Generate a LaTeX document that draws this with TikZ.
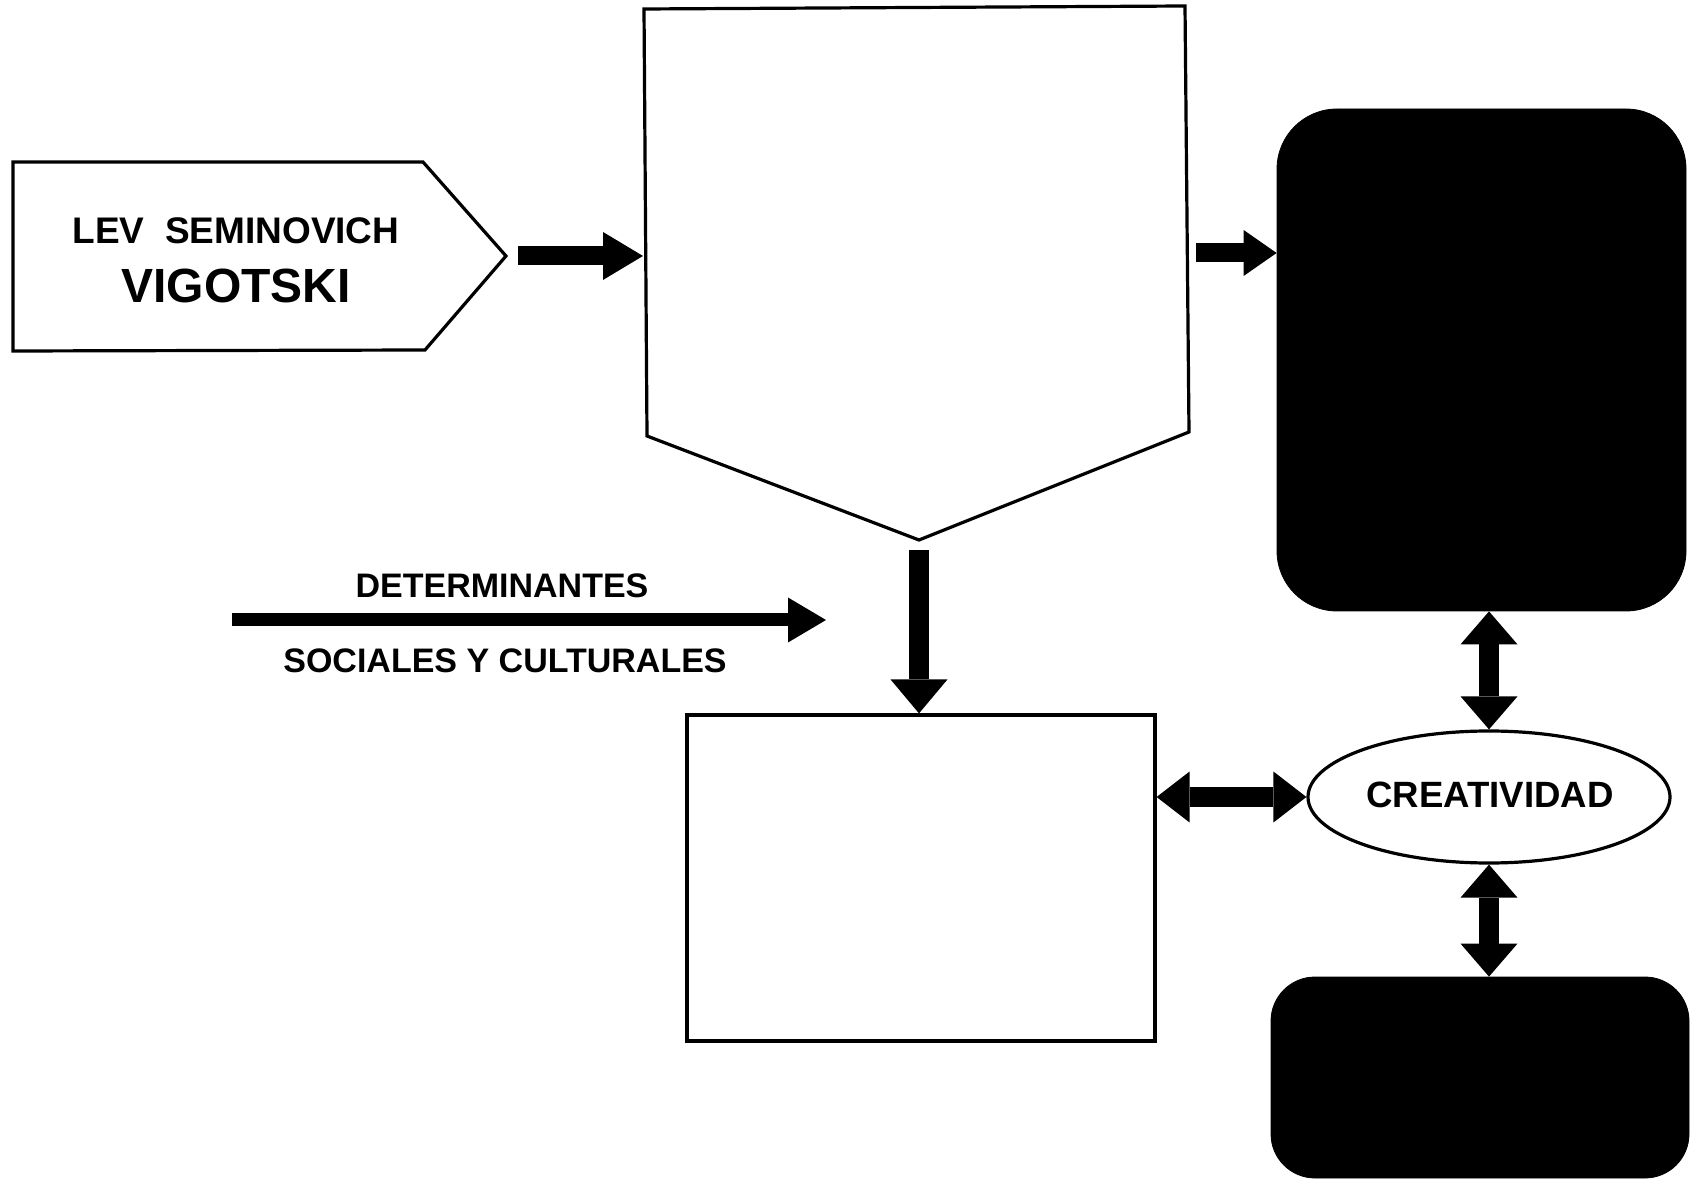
\documentclass[tikz,border=0pt]{standalone}
\usepackage{fontspec}
\setmainfont{Liberation Sans}
\usetikzlibrary{arrows.meta,shapes.geometric}
\begin{document}
\begin{tikzpicture}[x=0.5pt,y=-0.5pt,
  outline/.style={draw=black,line width=1.6pt,fill=white,line join=miter},
  blackbox/.style={fill=black,draw=black,inner sep=0pt,rounded corners=#1},
  label/.style={anchor=base,inner sep=0pt,font=\fontsize{#1}{#1}\selectfont\bfseries},
  tipA/.style 2 args={-{Triangle[width=#1,length=#2,line width=0pt]}},
  tipB/.style 2 args={{Triangle[width=#1,length=#2,line width=0pt]}-{Triangle[width=#1,length=#2,line width=0pt]}}
]
\useasboundingbox (0,0) rectangle (1692,1181);

% left pentagon
\draw[outline] (13,162) -- (423,162) -- (506,256) -- (425,350) -- (13,351) -- cycle;
\coordinate (vtip) at (506,256);
\node[label=18.5pt] (lev) at (236,244) {LEV\ \ SEMINOVICH};
\node[label=24pt] (vig) at (236,303) {VIGOTSKI};

% big pentagon
\draw[outline] (644,9) -- (1185,6) -- (1189,432) -- (919,540) -- (647,436) -- cycle;
\coordinate (pleft) at (643,256);
\coordinate (pright) at (1187,253);
\coordinate (ptip) at (919,540);

% boxes
\node[blackbox=30pt, minimum width=204.5pt, minimum height=251pt] (topbox) at (1481.5,360) {};
\node[blackbox=22pt, minimum width=209pt, minimum height=100.5pt] (botbox) at (1480,1077.5) {};
\node[draw=black,line width=1.6pt,fill=white,minimum width=234pt,minimum height=163pt,inner sep=0pt] (rect) at (921,878) {};
\node[ellipse,draw=black,line width=1.6pt,fill=white,minimum width=181pt,minimum height=66pt,inner sep=0pt] (crea) at (1489,797) {};
\node[label=18.3pt] (creat) at (1490,807) {CREATIVIDAD};

% determinantes arrow
\coordinate (ds) at (232,620);
\coordinate (de) at (826,620);
\draw[line width=6.5pt, tipA={22.5pt}{19pt}] (ds) -- (de);
\node[label=17pt] (det) at (502,598) {DETERMINANTES};
\node[label=17pt] (soc) at (505,672) {SOCIALES Y CULTURALES};

% connectors
\draw[line width=9.5pt, tipA={24pt}{20pt}, shorten <=6pt] (vtip) -- (pleft);
\draw[line width=9.5pt, tipA={23pt}{16.5pt}, shorten <=4.5pt] (pright) -- (topbox.west |- pright);
\draw[line width=10pt, tipA={28.5pt}{17pt}, shorten <=5pt] (ptip) -- (ptip |- rect.north);
\draw[line width=10pt, tipB={25.5pt}{16.5pt}] (crea.west -| rect.east) -- (crea.west);
\draw[line width=10pt, tipB={28.5pt}{16.5pt}] (crea.north |- topbox.south) -- (crea.north);
\draw[line width=10pt, tipB={28.5pt}{16.5pt}] (crea.south) -- (crea.south |- botbox.north);
\end{tikzpicture}
\end{document}
